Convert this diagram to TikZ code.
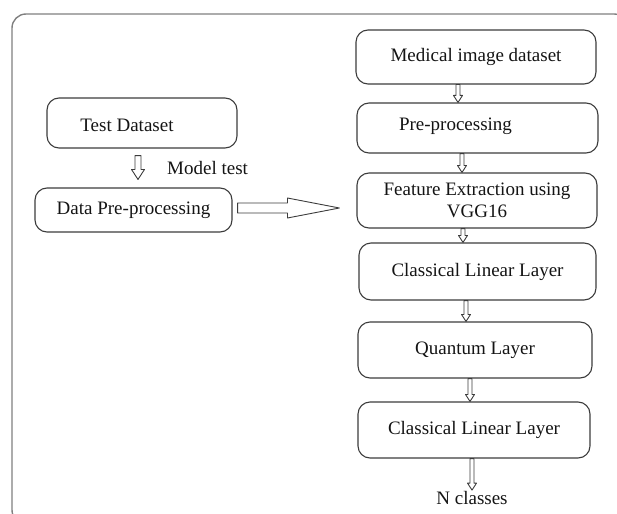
\documentclass[tikz,border=0pt]{standalone}
\usepackage{fontspec}
\setmainfont{Liberation Serif}
\usetikzlibrary{calc}
\definecolor{ink}{HTML}{141414}
\definecolor{boxline}{HTML}{3C3C3C}
\definecolor{framegray}{HTML}{808080}
\newcommand{\figfontsize}{\fontsize{19}{22}\selectfont}
\tikzset{
  every picture/.style = {font=\figfontsize, line join=round},
  blk/.style           = {draw=boxline, line width=1.1pt, rounded corners=12pt,
                          text=ink, align=center, inner sep=0pt},
  blockarrow/.style    = {draw=boxline, line width=0.9pt, fill=white},
  frameline/.style     = {draw=framegray, line width=1.4pt, rounded corners=14pt},
}
% hollow block arrow pointing down
% \downflow{start}{end}{shaft half width}{head half width}{head length}
\newcommand{\downflow}[5]{%
  \draw[blockarrow] let \p1=#1, \p2=#2 in
    (\x1-#3,\y1) -- (\x1+#3,\y1) -- (\x1+#3,\y2+#5) -- (\x1+#4,\y2+#5)
    -- (\x1,\y2) -- (\x1-#4,\y2+#5) -- (\x1-#3,\y2+#5) -- cycle;
}

\begin{document}
\begin{tikzpicture}[x=1pt, y=-1pt]
  \useasboundingbox (0,0) rectangle (617,513);
  \clip (0,0) rectangle (617,513);

  % outer frame, runs off the right and bottom edges
  \draw[frameline] (12,14) rectangle (628,524);

  % --- training pipeline (right column) ---
  \node[blk, minimum width=240pt, minimum height=54pt] (med)   at (476,57)    {Medical image dataset};
  \node[blk, minimum width=241pt, minimum height=50pt] (prep)  at (477.5,128) {};
  \node[text=ink, inner sep=0pt] at ([xshift=-22pt,yshift=2pt]prep.center) {Pre-processing};
  \node[blk, minimum width=240pt, minimum height=55pt] (feat)  at (477,200.5) {Feature Extraction using\\VGG16};
  \node[blk, minimum width=237pt, minimum height=57pt] (lin1)  at (477.5,271.5) {Classical Linear Layer};
  \node[blk, minimum width=234pt, minimum height=56pt] (quant) at (475,350)   {Quantum Layer};
  \node[blk, minimum width=232pt, minimum height=56pt] (lin2)  at (474,430)   {Classical Linear Layer};
  \node[text=ink, inner sep=1pt] (ncls) at (472,498) {N classes};

  \downflow{([xshift=-18pt]med.south)}{(prep.north)}{2pt}{4.5pt}{7pt}
  \downflow{([xshift=-15.5pt]prep.south)}{(feat.north)}{2pt}{4.5pt}{7pt}
  \downflow{([xshift=-14pt]feat.south)}{(lin1.north)}{2pt}{4.5pt}{7pt}
  \downflow{([xshift=-11.5pt]lin1.south)}{(quant.north)}{2pt}{4.5pt}{7pt}
  \downflow{([xshift=-5pt]quant.south)}{(lin2.north)}{2pt}{4.5pt}{7pt}
  \downflow{([xshift=-2pt]lin2.south)}{(ncls.north)}{2pt}{4.5pt}{7pt}

  % --- test branch (left) ---
  \node[blk, minimum width=190pt, minimum height=50pt] (testset)  at (142,123)   {};
  \node[text=ink, inner sep=0pt] at ([xshift=-15pt,yshift=-2pt]testset.center) {Test Dataset};
  \node[blk, minimum width=197pt, minimum height=44pt] (dataprep) at (133.5,210) {Data Pre-processing};
  \node[text=ink, anchor=west, inner sep=0pt] (mtest) at (167,168) {Model test};

  \downflow{([xshift=-4pt,yshift=-7pt]testset.south)}{([yshift=8pt]dataprep.north)}{3pt}{6.5pt}{10pt}

  % wide arrow into the feature extractor
  \draw[blockarrow] let \p1=([xshift=5pt,yshift=2pt]dataprep.east),
                        \p2=([xshift=-17pt]feat.west) in
    (\x1,\y1+5pt) -- (\x2-52pt,\y1+5pt) -- (\x2-52pt,\y1+10pt) -- (\x2,\y1)
    -- (\x2-52pt,\y1-10pt) -- (\x2-52pt,\y1-5pt) -- (\x1,\y1-5pt) -- cycle;
\end{tikzpicture}
\end{document}
